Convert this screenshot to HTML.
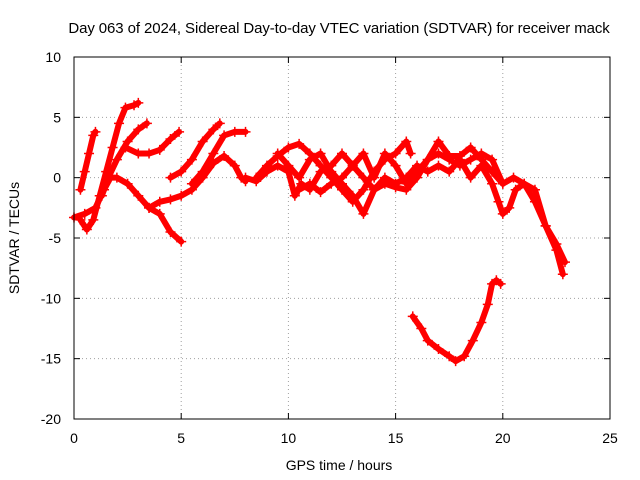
<!DOCTYPE html>
<html><head><meta charset="utf-8"><style>
body{margin:0;background:#fff}
svg{display:block;font-family:"Liberation Sans",sans-serif}
</style></head><body>
<svg id="chart" width="640" height="480" viewBox="0 0 640 480" xmlns="http://www.w3.org/2000/svg">
<rect width="640" height="480" fill="#fff"/>
<text x="339" y="33" font-size="15" letter-spacing="-0.1" text-anchor="middle">Day 063 of 2024, Sidereal Day-to-day VTEC variation (SDTVAR) for receiver mack</text>
<text x="339" y="470" font-size="14" text-anchor="middle">GPS time / hours</text>
<text transform="translate(19,238) rotate(-90)" font-size="14" text-anchor="middle">SDTVAR / TECUs</text>
<g id="grid"></g><g id="ticks"></g><g id="marks"></g>
<rect x="74" y="57" width="536" height="362" fill="none" stroke="#000" stroke-width="1"/>
</svg>
<script>
const xTicks=[0,5,10,15,20,25];
const yTicks=[10,5,0,-5,-10,-15,-20];
const trackA=[[0.3,-1],[0.5,0.5],[0.7,2],[0.9,3.5],[1.0,3.8]];
const trackB=[[0.3,-3.5],[0.6,-4.3],[0.9,-3.5],[1.2,-1.5],[1.5,0.5],[1.8,2.5],[2.1,4.5],[2.4,5.8],[2.8,6],[3.0,6.2]];
const trackC=[[0,-3.3],[0.5,-3],[1,-2.5],[1.4,-1],[1.7,0],[2,0],[2.5,-0.5],[3,-1.5],[3.5,-2.5],[4,-3],[4.5,-4.5],[5,-5.3]];
const trackD=[[1.3,-1.5],[1.6,0],[2,1.5],[2.5,3],[3,4],[3.4,4.5]];
const trackE=[[2.4,2.5],[3,2],[3.5,2],[4,2.3],[4.5,3.2],[4.9,3.8]];
const trackF=[[3.5,-2.5],[4,-2],[4.5,-1.8],[5,-1.5],[5.5,-1],[6,0],[6.5,1.2],[7,1.8],[7.5,1],[7.8,0],[8,-0.3]];
const trackG=[[4.5,0],[5,0.5],[5.5,1.5],[6,3],[6.5,4],[6.8,4.5]];
const trackH=[[5.5,-0.5],[6,0.5],[6.5,2],[7,3.5],[7.5,3.8],[8,3.8]];
const trackM1=[[8.5,0],[9,1],[9.5,1.8],[10,2.5],[10.5,2.8],[11,2],[11.5,1],[12,0],[12.5,-1],[13,-2],[13.5,-1],[14,0.5],[14.5,1.5],[15,2],[15.5,3],[15.7,2]];
const trackM2=[[8,0],[8.5,-0.3],[9,0.5],[9.5,1],[10,0.5],[10.3,-1.5],[10.6,-0.5],[11,-1],[11.5,0.5],[12,1],[12.5,2],[13,1],[13.5,0],[14,-1],[14.5,-0.5],[15,-0.8],[15.5,-1],[16,0],[16.5,1.5],[17,2],[17.5,1.5],[18,1],[18.5,1.5],[19,2],[19.5,1.5],[20,-0.5],[20.5,0],[21,-0.5],[21.5,-2],[22,-4],[22.5,-6],[22.8,-8]];
const trackM3=[[9.5,2],[10,1],[10.5,0],[11,1.5],[11.5,2],[12,0.5],[12.5,-0.5],[13,-1.5],[13.5,-3],[14,-1],[14.5,0],[15,-0.5],[15.5,0],[16,1],[16.5,0.5],[17,1],[17.5,0.5],[18,1.5],[18.5,0],[19,1],[19.5,-0.5],[19.8,-2],[20,-3],[20.3,-2.5],[20.6,-1],[21,-0.5],[21.5,-1],[22,-4],[22.5,-5.5],[22.9,-7]];
const trackM4=[[10.5,-1],[11,-0.5],[11.5,-1.2],[12,-0.5],[12.5,0],[13,1],[13.5,2],[14,0],[14.5,2],[15,1],[15.5,-0.5],[16,0.5],[16.5,1.5],[17,3],[17.5,1.8],[18,1.8],[18.5,2.5],[19,1.5],[19.5,0.5],[20,-0.5]];
const trackLow=[[15.8,-11.5],[16.2,-12.5],[16.5,-13.5],[17,-14.2],[17.5,-14.8],[17.8,-15.2],[18.2,-14.8],[18.6,-13.5],[19,-12],[19.3,-10.5],[19.5,-8.8],[19.7,-8.5],[19.9,-8.8]];
const tracks=[trackA,trackB,trackC,trackD,trackE,trackF,trackG,trackH,trackM1,trackM2,trackM3,trackM4,trackLow];

const NS="http://www.w3.org/2000/svg";
const X0=74,X1=610,Y0=419,Y1=57;
function sx(v){return X0+(v-0)/(25-0)*(X1-X0);}
function sy(v){return Y0-(v-(-20))/(10-(-20))*(Y0-Y1);}
function mk(tag,attrs,parent){const e=document.createElementNS(NS,tag);for(const k in attrs)e.setAttribute(k,attrs[k]);parent.appendChild(e);return e;}
const grid=document.getElementById('grid'),ticks=document.getElementById('ticks'),marks=document.getElementById('marks');
xTicks.forEach(t=>{
  const x=sx(t);
  if(t>0&&t<25){const g=mk('line',{x1:x,x2:x,y1:Y1,y2:Y0,stroke:'#a0a0a0','stroke-dasharray':'1,3'},grid);
  
  }
  mk('line',{x1:x,x2:x,y1:Y0,y2:Y0-6,stroke:'#000'},ticks);
  mk('line',{x1:x,x2:x,y1:Y1,y2:Y1+6,stroke:'#000'},ticks);
  const l=mk('text',{x:x,y:Y0+24,'font-size':14,'text-anchor':'middle'},ticks);l.textContent=t;
  
  
});
yTicks.forEach(t=>{
  const y=sy(t);
  if(t>-20&&t<10){const g=mk('line',{x1:X0,x2:X1,y1:y,y2:y,stroke:'#a0a0a0','stroke-dasharray':'1,3'},grid);
  
  }
  mk('line',{x1:X0,x2:X0+6,y1:y,y2:y,stroke:'#000'},ticks);
  mk('line',{x1:X1,x2:X1-6,y1:y,y2:y,stroke:'#000'},ticks);
  const l=mk('text',{x:X0-13,y:y+5,'font-size':14,'text-anchor':'end'},ticks);l.textContent=t;
  
  
});
tracks.forEach((tr,i)=>{
  const p=mk('polyline',{points:tr.map(d=>sx(d[0])+','+sy(d[1])).join(' '),fill:'none',stroke:'#f00','stroke-width':6,'stroke-linejoin':'round','stroke-linecap':'round'},marks);
  
  
  tr.forEach(d=>{
    const x=sx(d[0]),y=sy(d[1]);
    const m=mk('path',{d:`M${x-5},${y}H${x+5}M${x},${y-5}V${y+5}`,stroke:'#f00','stroke-width':1.5},marks);
    
    
  });
});
</script>
</body></html>
